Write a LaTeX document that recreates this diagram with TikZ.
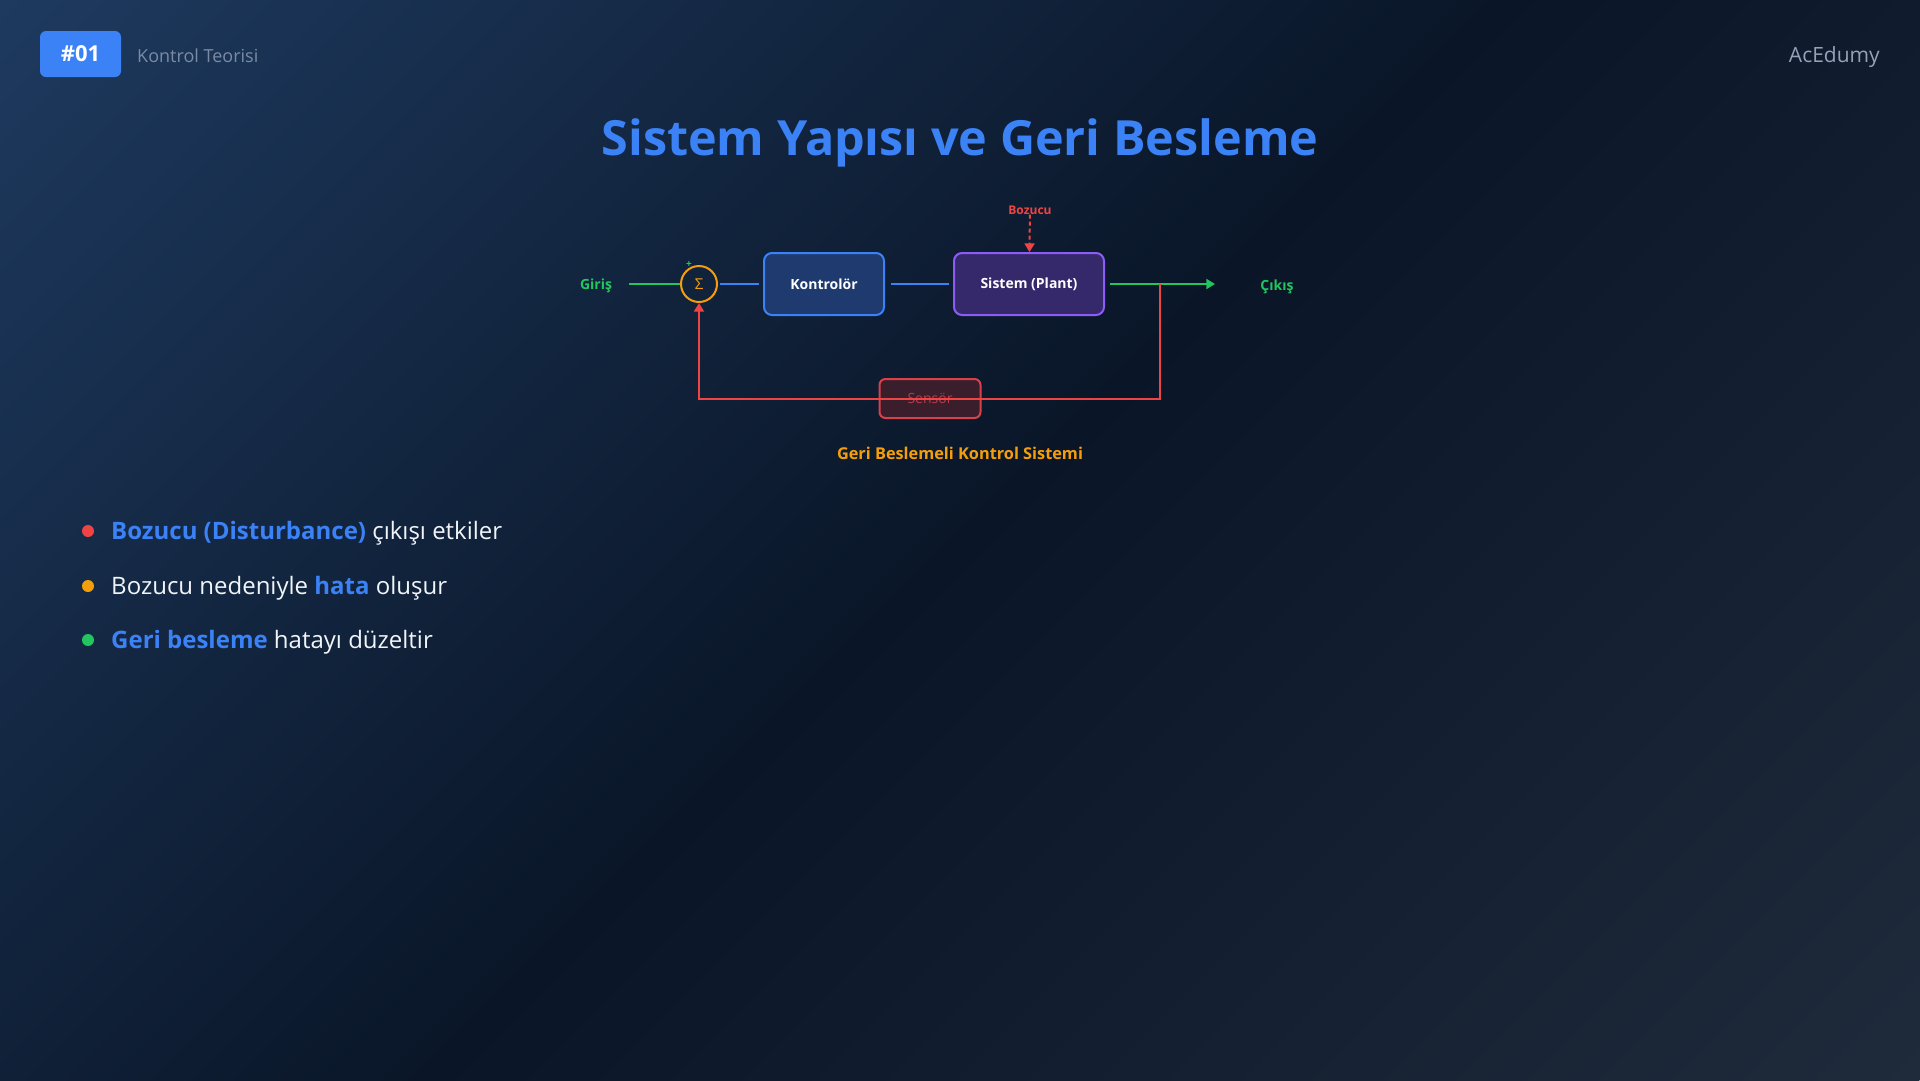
\documentclass[tikz,border=0pt]{standalone}
\usepackage{fontspec}
\setmainfont{Open Sans}
\usetikzlibrary{positioning,arrows.meta}
\definecolor{bgtl}{HTML}{1E3A5F}
\definecolor{bgmid}{HTML}{0A1628}
\definecolor{bgbr}{HTML}{1F2A3B}
\definecolor{accent}{HTML}{3B82F6}
\definecolor{okgreen}{HTML}{22C55E}
\definecolor{warnred}{HTML}{EF4444}
\definecolor{amber}{HTML}{F59E0B}
\definecolor{violet}{HTML}{8B5CF6}
\definecolor{ctrlfill}{HTML}{1E3A6E}
\definecolor{plantfill}{HTML}{35296B}
\definecolor{sensfill}{HTML}{3B1E2C}
\definecolor{sensline}{HTML}{D8404A}
\definecolor{senstext}{HTML}{B83C4A}
\definecolor{muted}{HTML}{7B8BA5}
\definecolor{brandgray}{HTML}{94A3B8}
\definecolor{bodytext}{HTML}{F1F5F9}
\newcommand{\px}[1]{\fontsize{#1}{#1}\selectfont}
\newcommand{\hl}[1]{{\color{accent}\bfseries #1}}

\begin{document}
\begin{tikzpicture}[
  x=1pt,y=-1pt,
  >=Triangle,
  blk/.style={draw,line width=2pt,rounded corners=8pt,minimum height=62pt,text=white,font=\px{14}\bfseries},
  link/.style={line width=2pt},
  lbl/.style={font=\px{14}\bfseries,inner sep=0pt},
  dot/.style={circle,minimum size=12pt,inner sep=0pt},
  item/.style={anchor=west,text=bodytext,font=\px{24},inner sep=0pt}
]
% background
\useasboundingbox (0,0) rectangle (1920,1080);
\begin{scope}
  \clip (0,0) rectangle (1920,1080);
  \begin{scope}[transform canvas={rotate around={-45:(960,540)}}]
    \shade[left color=bgtl,right color=bgbr,middle color=bgmid]
      (-100.5,-1000) rectangle (2020.5,2080);
  \end{scope}
\end{scope}

% header
\node[fill=accent,rounded corners=6pt,minimum width=81pt,minimum height=46pt,
  text=white,font=\px{22}\bfseries] (badge) at (80.5,54) {\#01};
\node[anchor=west,text=muted,font=\px{18},inner sep=0pt] (topic) at (137,56) {Kontrol Teorisi};
\node[anchor=east,text=brandgray,font=\px{21},inner sep=0pt] (brand) at (1880,57) {AcEdumy};
\node[text=accent,font=\px{48.5}\bfseries] (title) at (960,143) {Sistem Yapısı ve Geri Besleme};

% block diagram
\node[blk,fill=ctrlfill,draw=accent,minimum width=120pt] (ctrl) at (824,284) {Kontrolör};
\node[blk,fill=plantfill,draw=violet,minimum width=150pt,right=68pt of ctrl] (plant) {Sistem (Plant)};
\node[circle,draw=amber,line width=2pt,minimum size=36pt,inner sep=0pt,
  text=amber,font=\px{15},left=45pt of ctrl] (sum) {Σ};
\node[text=okgreen,font=\px{10}\bfseries,inner sep=0pt] (plus) at (689,265) {+};
\node[lbl,text=okgreen] (giris) at (596,286) {Giriş};
\node[lbl,text=okgreen] (cikis) at (1277,287) {Çıkış};
\node[lbl,text=warnred,font=\px{12}\bfseries] (bozucu) at (1030,210) {Bozucu};
\node[draw=sensline,fill=sensfill,line width=2pt,rounded corners=6pt,
  minimum width=101pt,minimum height=39pt,text=senstext,font=\px{14}] (sensor) at (930,398.5) {Sensör};
\coordinate (in) at (629,284);
\coordinate (out) at (1215,284);
\coordinate (tap) at (1160,284);

\draw[link,okgreen] (in) -- (sum);
\draw[link,accent,shorten >=4pt,shorten <=2pt] (sum) -- (ctrl);
\draw[link,accent,shorten >=4pt,shorten <=6pt] (ctrl) -- (plant);
\draw[link,okgreen,->,shorten <=5pt] (plant) -- (out);
\draw[link,warnred,dash pattern=on 4pt off 3pt,->] (bozucu) -- (plant);
\draw[link,warnred,->] (tap) |- (sensor.center) -| (sum.south);

\node[text=amber,font=\px{16.3}\bfseries] (caption) at (960,453) {Geri Beslemeli Kontrol Sistemi};

% key points
\node[dot,fill=warnred] (d1) at (88,531) {};
\node[dot,fill=amber] (d2) at (88,586) {};
\node[dot,fill=okgreen] (d3) at (88,640) {};
\node[item] (p1) at (111,533) {\hl{Bozucu (Disturbance)} çıkışı etkiler};
\node[item] (p2) at (111,588) {Bozucu nedeniyle \hl{hata} oluşur};
\node[item] (p3) at (111,642) {\hl{Geri besleme} hatayı düzeltir};
\end{tikzpicture}
\end{document}
